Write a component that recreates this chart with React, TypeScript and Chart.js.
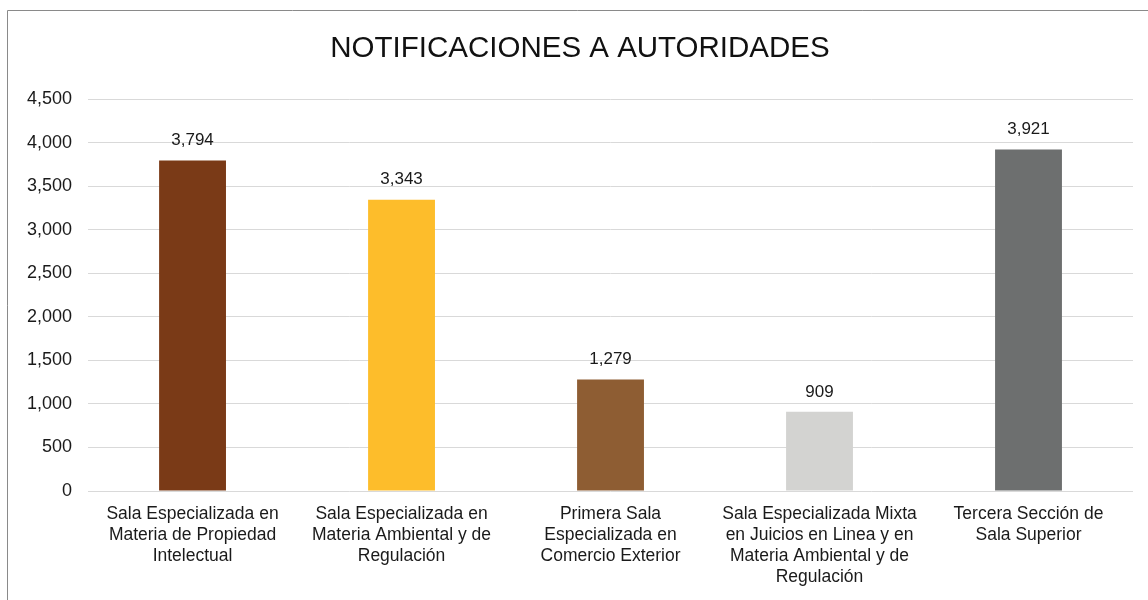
import React, { useEffect, useRef } from "react";
import { Chart, registerables } from "chart.js";

Chart.register(...registerables);

const categories: string[][] = [
  ["Sala Especializada en", "Materia de Propiedad", "Intelectual"],
  ["Sala Especializada en", "Materia Ambiental y de", "Regulación"],
  ["Primera Sala", "Especializada en", "Comercio Exterior"],
  ["Sala Especializada Mixta", "en Juicios en Linea y en", "Materia Ambiental y de", "Regulación"],
  ["Tercera Sección de", "Sala Superior"],
];
const values: number[] = [3794, 3343, 1279, 909, 3921];
const barColors: string[] = ["#7a3a17", "#fdbd2b", "#8e5d33", "#d3d3d1", "#6d6f6f"];
const titleText = "NOTIFICACIONES A AUTORIDADES";

const FONT = "'Liberation Sans', Arial, sans-serif";

const fmt = (v: number) => v.toLocaleString("en-US");

const valueLabels = {
  id: "valueLabels",
  afterDatasetsDraw(chart: any) {
    const ctx = chart.ctx;
    const meta = chart.getDatasetMeta(0);
    ctx.save();
    ctx.font = `17px ${FONT}`;
    ctx.fillStyle = "#1a1a1a";
    ctx.textAlign = "center";
    ctx.textBaseline = "middle";
    meta.data.forEach((bar: any, i: number) => {
      const v = chart.data.datasets[0].data[i] as number;
      ctx.fillText(fmt(v), bar.x, bar.y - 20);
    });
    ctx.restore();
  },
};

const frame = {
  id: "frame",
  beforeDraw(chart: any) {
    const ctx = chart.ctx;
    ctx.save();
    ctx.fillStyle = "#ffffff";
    ctx.fillRect(0, 0, chart.width, chart.height);
    ctx.strokeStyle = "#8a8a8a";
    ctx.lineWidth = 1;
    ctx.beginPath();
    ctx.moveTo(7.5, chart.height);
    ctx.lineTo(7.5, 10.5);
    ctx.lineTo(chart.width, 10.5);
    ctx.stroke();
    ctx.restore();
  },
};

const titleDraw = {
  id: "titleDraw",
  afterDraw(chart: any) {
    const ctx = chart.ctx;
    ctx.save();
    ctx.font = `29.5px ${FONT}`;
    ctx.fillStyle = "#111111";
    ctx.textAlign = "center";
    ctx.textBaseline = "middle";
    ctx.fillText(titleText, 580, 49);
    ctx.restore();
  },
};

export default function App() {
  const ref = useRef<HTMLCanvasElement | null>(null);
  useEffect(() => {
    if (!ref.current) return;
    const chart = new Chart(ref.current, {
      type: "bar",
      data: {
        labels: categories,
        datasets: [
          {
            data: values,
            backgroundColor: barColors,
            borderWidth: 0,
            categoryPercentage: 1,
            barPercentage: 0.32,
          },
        ],
      },
      options: {
        animation: false,
        responsive: true,
        maintainAspectRatio: false,
        layout: { padding: { top: 32, left: 11, right: 15, bottom: 7 } },
        plugins: {
          legend: { display: false },
          tooltip: { enabled: false },
          title: {
            display: true,
            text: titleText,
            color: "rgba(0,0,0,0)",
            font: { family: FONT, size: 30, weight: "normal" },
            padding: { top: 0, bottom: 31 },
          },
        },
        scales: {
          x: {
            grid: { display: false },
            border: { display: false },
            ticks: {
              color: "#1a1a1a",
              font: { family: FONT, size: 17.5, lineHeight: 1.2 },
              maxRotation: 0,
              autoSkip: false,
              padding: 5,
            },
          },
          y: {
            min: 0,
            max: 4500,
            ticks: {
              stepSize: 500,
              color: "#1a1a1a",
              font: { family: FONT, size: 18 },
              padding: 16,
              callback: (v: any) => fmt(Number(v)),
            },
            grid: { color: "#d9d9d9", drawTicks: false, lineWidth: 1 },
            border: { display: false },
          },
        },
      },
      plugins: [frame, valueLabels, titleDraw],
    });
    return () => chart.destroy();
  }, []);
  return (
    <div style={{ position: "fixed", left: 0, top: 0, width: 1148, height: 600, background: "#fff" }}>
      <canvas ref={ref} />
    </div>
  );
}
